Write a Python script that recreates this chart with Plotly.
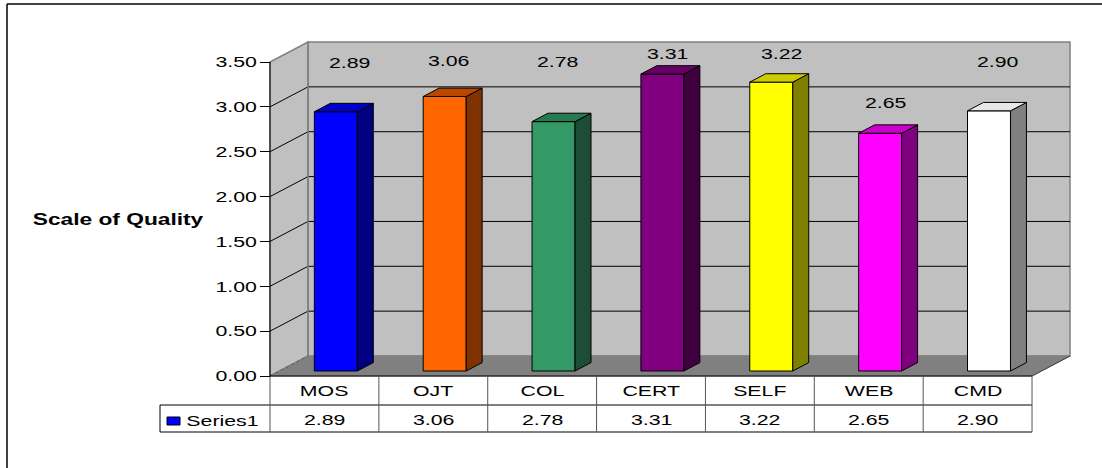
import plotly.graph_objects as go

# ---- data -------------------------------------------------------------
categories = ["MOS", "OJT", "COL", "CERT", "SELF", "WEB", "CMD"]
scores = [2.89, 3.06, 2.78, 3.31, 3.22, 2.65, 2.90]
y_ticks = [0.0, 0.5, 1.0, 1.5, 2.0, 2.5, 3.0, 3.5]
series_name = "Series1"
axis_title = "Scale of Quality"

# ---- styles -----------------------------------------------------------
front_colors = ["#0000FF", "#FF6600", "#339966", "#800080", "#FFFF00", "#FF00FF", "#FFFFFF"]
side_colors = ["#000080", "#803300", "#1E4D36", "#400040", "#808000", "#800080", "#808080"]
top_colors = ["#0000C8", "#B84800", "#267A50", "#660066", "#CCCC00", "#CC00CC", "#E8E8E8"]
label_lift = [0.61, 0.46, 0.73, 0.29, 0.37, 0.40, 0.61]   # label height above each bar top
label_dx = [0.23, 0.14, 0.14, 0.15, 0.20, 0.15, 0.18]     # label offset right of slot centre

FONT = "Liberation Sans"
TEXT_STRETCH = 1.42      # horizontal widening applied to every text run
W, H = 1102, 468

# Axis scaling: one category = CAT_PX pixels, one score unit = UNIT_PX pixels,
# front-left floor corner at (ORIGIN_X, ORIGIN_Y) on the page.
ORIGIN_X, ORIGIN_Y = 270, 376
CAT_PX, UNIT_PX = 108.86, 89.71
DX, DY = 38 / CAT_PX, 20 / UNIT_PX          # oblique depth of the 3-D box
BAR_F0, BAR_F1 = 0.25, 0.67                 # bar depth span (fraction of box depth)
BAR_INSET, BAR_W = 0.32, 0.395              # bar placement inside a category slot
N = len(categories)
TOP = y_ticks[-1]


def px(xp, yp):
    """Convert a page pixel position to axis units."""
    return (xp - ORIGIN_X) / CAT_PX, (ORIGIN_Y - yp) / UNIT_PX


def poly_path(pts):
    return "M " + " L ".join(f"{x},{y}" for x, y in pts) + " Z"


shapes = []


def add_poly(pts, fill, line_color, width=1, layer="below"):
    shapes.append(dict(type="path", path=poly_path(pts), xref="x", yref="y",
                       fillcolor=fill, line=dict(color=line_color, width=width),
                       layer=layer))


def add_line(p0, p1, color, width=1, dash="solid", layer="below"):
    shapes.append(dict(type="line", xref="x", yref="y", x0=p0[0], y0=p0[1],
                       x1=p1[0], y1=p1[1],
                       line=dict(color=color, width=width, dash=dash), layer=layer))


# ---- 3-D walls and floor ---------------------------------------------
add_poly([(DX, DY), (N + DX, DY), (N + DX, TOP + DY), (DX, TOP + DY)], "#C0C0C0", "#808080", 1.5)
add_poly([(0, 0), (DX, DY), (DX, TOP + DY), (0, TOP)], "#C0C0C0", "#808080", 1.5)
add_poly([(0, 0), (N, 0), (N + DX, DY), (DX, DY)], "#808080", "#808080", 1)

for v in y_ticks[1:-1]:
    add_line((DX, v + DY), (N + DX, v + DY), "#000000", 1)
    add_line((0, v), (DX, v + DY), "#000000", 1)
add_line((0, 0), (DX, DY), "#5A5A5A", 1, dash="dot")
add_line((N, 0), (N + DX, DY), "#404040", 1)
add_line((DX, DY), (DX, TOP + DY), "#808080", 1.5)

# ---- data table beneath the floor --------------------------------------
row_a = px(0, 405)[1]
row_b = px(0, 432)[1]
left_cell = px(160, 0)[0]
add_line((0, 0), (N, 0), "#000000", 1)
add_line((left_cell, row_a), (N, row_a), "#000000", 1)
add_line((left_cell, row_b), (N, row_b), "#000000", 1)
add_line((left_cell, row_a), (left_cell, row_b), "#000000", 1)
for i in range(N + 1):
    add_line((i, 0), (i, row_b), "#555555", 1)
add_line((0, 0), (0, TOP), "#000000", 1)

# legend key in the table
k0, k1 = px(167, 417), px(180, 425)
shapes.append(dict(type="rect", xref="x", yref="y", x0=k0[0], y0=k0[1], x1=k1[0], y1=k1[1],
                   fillcolor=front_colors[0], line=dict(color="#000000", width=1), layer="above"))

# outer chart border (top and left edges)
b0, b1, b2 = px(7, 4), px(W + 5, 4), px(7, H + 5)
add_line(b0, b1, "#000000", 1.5, layer="above")
add_line(b0, b2, "#000000", 1.5, layer="above")

# ---- bars ---------------------------------------------------------------
fig = go.Figure()
ddx = (BAR_F1 - BAR_F0) * DX
ddy = (BAR_F1 - BAR_F0) * DY
for i, v in enumerate(scores):
    x0 = i + BAR_INSET + BAR_F0 * DX
    x1 = x0 + BAR_W
    y0 = BAR_F0 * DY
    y1 = y0 + v
    faces = [
        ([x0, x1, x1, x0, x0], [y0, y0, y1, y1, y0], front_colors[i]),
        ([x1, x1 + ddx, x1 + ddx, x1, x1], [y0, y0 + ddy, y1 + ddy, y1, y0], side_colors[i]),
        ([x0, x1, x1 + ddx, x0 + ddx, x0], [y1, y1, y1 + ddy, y1 + ddy, y1], top_colors[i]),
    ]
    for xs, ys, col in faces:
        fig.add_trace(go.Scatter(x=xs, y=ys, mode="lines", fill="toself", fillcolor=col,
                                 line=dict(color="#000000", width=1), hoverinfo="skip",
                                 showlegend=False))

# ---- text ---------------------------------------------------------------
txt_font = dict(family=FONT, size=15, color="#000000")
annotations = []
for i, v in enumerate(scores):
    annotations.append(dict(x=i + 0.5 + label_dx[i], y=v + label_lift[i], text=f"{v:.2f}",
                            showarrow=False, font=txt_font,
                            xanchor="center", yanchor="middle"))
cat_y = px(0, 390)[1]
val_y = px(0, 419)[1]
for i, (c, v) in enumerate(zip(categories, scores)):
    annotations.append(dict(x=i + 0.5, y=cat_y, text=c, showarrow=False, font=txt_font,
                            xanchor="center", yanchor="middle"))
    annotations.append(dict(x=i + 0.5, y=val_y, text=f"{v:.2f}", showarrow=False,
                            font=txt_font, xanchor="center", yanchor="middle"))
sx, sy = px(222, 420)
annotations.append(dict(x=sx, y=sy, text=series_name, showarrow=False, font=txt_font,
                        xanchor="center", yanchor="middle"))
tx, ty = px(118, 219)
annotations.append(dict(x=tx, y=ty, text=axis_title, showarrow=False,
                        font=dict(family=FONT, size=16, color="#000000", weight="bold"),
                        xanchor="center", yanchor="middle"))

fig.update_layout(
    width=W, height=H, autosize=False,
    margin=dict(l=0, r=0, t=0, b=0, pad=0),
    paper_bgcolor="#FFFFFF", plot_bgcolor="#FFFFFF",
    showlegend=False, hovermode=False,
    shapes=shapes, annotations=annotations,
    xaxis=dict(range=[-ORIGIN_X / CAT_PX, (W - ORIGIN_X) / CAT_PX], visible=False,
               fixedrange=True),
    yaxis=dict(range=[-(H - ORIGIN_Y) / UNIT_PX, ORIGIN_Y / UNIT_PX],
               anchor="free", position=ORIGIN_X / W, side="left",
               tickmode="array", tickvals=y_ticks, ticktext=[f"{t:.2f}" for t in y_ticks],
               ticks="outside", ticklen=10, tickcolor="#000000", tickwidth=1,
               showgrid=False, zeroline=False, showline=False, fixedrange=True,
               tickfont=txt_font),
)

# Widen every text run horizontally (wide, letter-spaced chart lettering).
stretch_js = """
var gd = document.getElementById('{plot_id}');
function widenText() {
  gd.querySelectorAll('svg text').forEach(function (t) {
    if (t.getAttribute('data-wide')) { return; }
    var w = t.getComputedTextLength();
    if (w > 0) {
      t.setAttribute('textLength', (w * %s).toFixed(2));
      t.setAttribute('lengthAdjust', 'spacingAndGlyphs');
      t.setAttribute('data-wide', '1');
    }
  });
}
widenText();
gd.on('plotly_afterplot', widenText);
""" % TEXT_STRETCH

fig.write_html("out.html", post_script=stretch_js)
